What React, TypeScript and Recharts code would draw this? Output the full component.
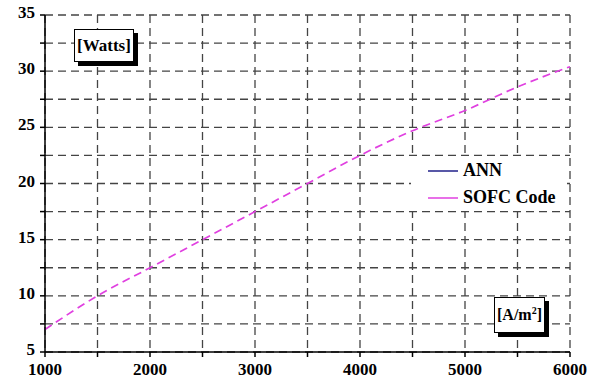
import React from 'react';
import { LineChart, Line, XAxis, YAxis, CartesianGrid } from 'recharts';

const currentDensity = [1000, 1500, 2000, 2500, 3000, 3500, 4000, 4500, 5000, 5500, 6000];
const sofcPower = [7.0, 10.0, 12.5, 15.0, 17.5, 20.0, 22.5, 24.7, 26.5, 28.6, 30.4];
const xTicks = [1000, 1500, 2000, 2500, 3000, 3500, 4000, 4500, 5000, 5500, 6000];
const yTicks = [5, 7.5, 10, 12.5, 15, 17.5, 20, 22.5, 25, 27.5, 30, 32.5, 35];
const seriesNames = ['ANN', 'SOFC Code'];
const seriesColors = ['#20208a', '#e040e0'];

const data = currentDensity.map((x, i) => ({ x, sofc: sofcPower[i] }));

const font = '"Liberation Serif", "Times New Roman", serif';

// legend sits in a white box over the grid, no border
const LegendBox = () => (
    <div style={{ position: 'absolute', left: 411, top: 157, width: 156, height: 54, background: '#fff', boxSizing: 'border-box', fontFamily: font, fontWeight: 'bold', fontSize: 18 }}>
        {seriesNames.map((name, i) => (
            <div key={name} style={{ display: 'flex', alignItems: 'center', height: 27 }}>
                <svg width={30} height={4} style={{ marginLeft: 17, marginRight: 5 }}>
                    <line x1={0} y1={2} x2={30} y2={2} stroke={seriesColors[i]} strokeWidth={1.5} />
                </svg>
                <span>{name}</span>
            </div>
        ))}
    </div>
);

const boxStyle: React.CSSProperties = {
    position: 'absolute',
    background: '#fff',
    border: '1px solid #000',
    boxShadow: '4px 4px 0 #000',
    fontFamily: font,
    fontWeight: 'bold',
    display: 'flex',
    alignItems: 'center',
    justifyContent: 'center',
    boxSizing: 'border-box',
};

export default function App() {
    return (
        <div style={{ position: 'absolute', left: 0, top: 0, width: 600, height: 384, background: '#fff' }}>
            <LineChart width={600} height={384} data={data} margin={{ top: 15, right: 30, left: 0, bottom: 0 }}>
                <CartesianGrid strokeDasharray="8 5" stroke="#444" strokeWidth={1.3} />
                <XAxis
                    dataKey="x"
                    type="number"
                    domain={[1000, 6000]}
                    ticks={xTicks}
                    tickFormatter={(v: number) => (v % 1000 === 0 ? String(v) : '')}
                    height={32}
                    tickSize={5}
                    tickMargin={6}
                    stroke="#000"
                    strokeWidth={1.5}
                    tick={{ fill: '#000', fontSize: 17, fontWeight: 'bold', fontFamily: font }}
                    interval={0}
                />
                <YAxis
                    type="number"
                    domain={[5, 35]}
                    ticks={yTicks}
                    tickFormatter={(v: number) => (v % 5 === 0 ? String(v) : '')}
                    width={45}
                    tickSize={5}
                    tickMargin={5}
                    stroke="#000"
                    strokeWidth={1.5}
                    tick={{ fill: '#000', fontSize: 17, fontWeight: 'bold', fontFamily: font, dy: -3 }}
                    interval={0}
                />
                <Line
                    type="monotone"
                    dataKey="sofc"
                    name="SOFC Code"
                    stroke={seriesColors[1]}
                    strokeWidth={1.7}
                    strokeDasharray="8 5"
                    dot={false}
                    isAnimationActive={false}
                />
            </LineChart>
            <LegendBox />
            <div style={{ ...boxStyle, left: 74, top: 29, width: 60, height: 33, fontSize: 17 }}>[Watts]</div>
            <div style={{ ...boxStyle, left: 494, top: 297, width: 51, height: 36, fontSize: 16 }}>
                <span>[A/m<sup style={{ fontSize: 10 }}>2</sup>]</span>
            </div>
        </div>
    );
}
